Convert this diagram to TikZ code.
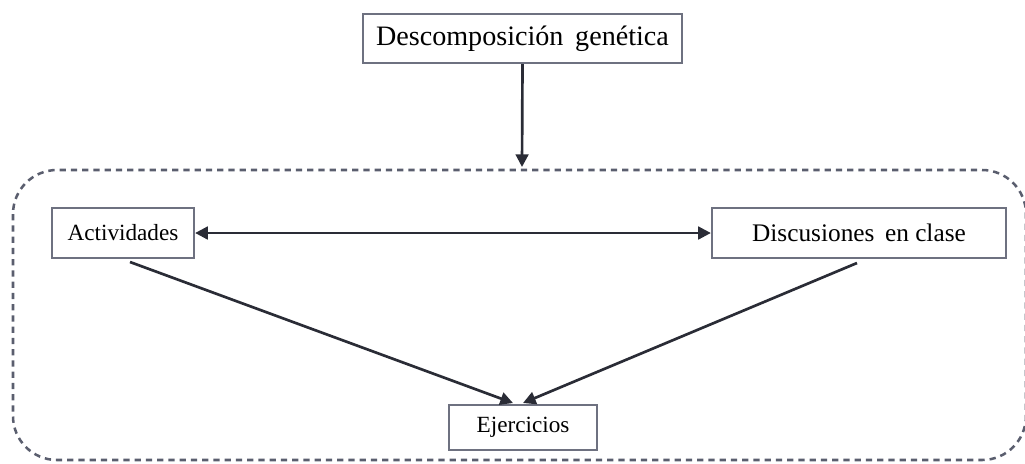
\documentclass[tikz,border=0pt]{standalone}
\usepackage{fontspec}
\setmainfont{Liberation Serif}
\usetikzlibrary{arrows.meta}
\definecolor{boxline}{HTML}{6E7180}
\definecolor{dashline}{HTML}{5A5E6E}
\definecolor{arrowline}{HTML}{2A2C36}
\begin{document}
\begin{tikzpicture}[x=0.025cm,y=-0.025cm,
  box/.style={draw=boxline,line width=1.6pt,fill=white,inner sep=0pt,anchor=center},
  tip/.style={Triangle[length=9pt,width=9pt]},
  conn/.style={draw=arrowline,line width=1.9pt,-{Triangle[length=9pt,width=9pt]}}]
\useasboundingbox (0,0) rectangle (1025,463);
\draw[dashline,line width=1.8pt,dash pattern=on 4.5pt off 3.5pt,rounded corners=1.1cm]
  (13,170) rectangle (1026,460);
\node[box,minimum width=319*0.025cm,minimum height=49*0.025cm,font=\fontsize{20}{23}\selectfont] (dg) at (522.5,38.5) {Descomposición\, genética};
\coordinate (dtop) at (522,167);
\node[box,minimum width=142*0.025cm,minimum height=50*0.025cm,font=\fontsize{16.5}{19}\selectfont] (act) at (123,233) {Actividades};
\node[box,minimum width=294*0.025cm,minimum height=50*0.025cm,font=\fontsize{18}{21}\selectfont] (dis) at (859,233) {Discusiones\, en clase};
\node[box,minimum width=148*0.025cm,minimum height=45*0.025cm,font=\fontsize{16.5}{19}\selectfont] (ej) at (523,427.5) {Ejercicios};
\coordinate (ejl) at (513,403);
\coordinate (ejr) at (523,403);
\coordinate (acts) at (130,262);
\coordinate (diss) at (857,263);
\draw[conn] (dg.south) -- (dtop);
\draw[conn,{Triangle[length=9pt,width=9pt]}-{Triangle[length=9pt,width=9pt]}] (act.east) -- (dis.west);
\draw[conn] (acts) -- (ejl);
\draw[conn] (diss) -- (ejr);
\end{tikzpicture}
\end{document}
